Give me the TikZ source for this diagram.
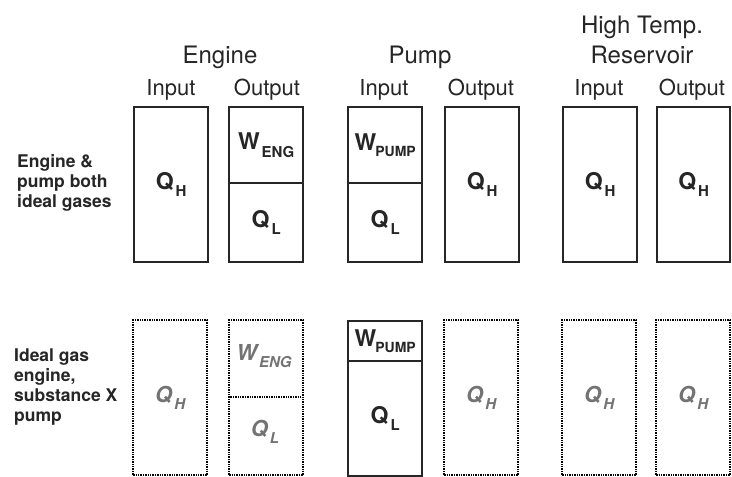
\documentclass[tikz,border=0pt]{standalone}
\usepackage{fontspec}
\setmainfont{TeX Gyre Heros}
\newcommand\lowsub[1]{\kern2pt\raisebox{-0.32em}{\fontsize{15}{15}\selectfont #1}}
\newcommand\pumpsub{\kern-1pt\raisebox{-0.25em}{\fontsize{14}{14}\selectfont PUMP}}
\begin{document}
\begin{tikzpicture}[x=1pt,y=-1pt,
  solidbox/.style={draw=black!85, line width=2.4pt, minimum width=74pt, anchor=north west, inner sep=0pt,
    font=\bfseries\fontsize{23}{23}\selectfont, text=black!85},
  ghostbox/.style={draw=black, line width=2.4pt, dash pattern=on 1.4pt off 1pt, minimum width=74pt,
    anchor=north west, inner sep=0pt, font=\bfseries\itshape\fontsize{22}{22}\selectfont, text=black!55},
  ghostlab/.style={font=\bfseries\itshape\fontsize{22}{22}\selectfont, text=black!55, inner sep=0pt},
  ghostline/.style={draw=black, line width=2.4pt, dash pattern=on 1.4pt off 1pt},
  head/.style={anchor=base, font=\fontsize{24}{24}\selectfont, text=black!85},
  colhead/.style={anchor=base, font=\fontsize{22}{22}\selectfont, text=black!85},
  sidelab/.style={anchor=west, align=left, font=\bfseries\fontsize{17.5}{20}\selectfont, text=black!85, inner sep=0pt}
]
\useasboundingbox (0,0) rectangle (732,477);
\fill[white] (0,0) rectangle (732,477);

% headers
\node[head] (hEng) at (220,63) {Engine};
\node[head] (hPump) at (420,63) {Pump};
\node[head] (hHigh) at (642,33) {High Temp.};
\node[head] (hRes) at (642,63) {Reservoir};
\node[colhead] (c1) at (171,95) {Input};
\node[colhead] (c2) at (267,95) {Output};
\node[colhead] (c3) at (384,95) {Input};
\node[colhead] (c4) at (481,95) {Output};
\node[colhead] (c5) at (599,95) {Input};
\node[colhead] (c6) at (692,95) {Output};

% side labels
\node[sidelab] (s1) at (17,183) {Engine \&\\pump both\\ideal gases};
\node[sidelab] (s2) at (14,387) {Ideal gas\\engine,\\substance X\\pump};

% top row
\node[solidbox, minimum height=155pt] (ei) at (133,106) {Q\lowsub{H}};
\node[solidbox, minimum height=76pt] (eoW) at (228,106) {W\lowsub{ENG}};
\node[solidbox, minimum height=79pt] (eoQ) at (228,182) {Q\lowsub{L}};
\node[solidbox, minimum height=76pt] (piW) at (347,106) {W\pumpsub};
\node[solidbox, minimum height=79pt] (piQ) at (347,182) {Q\lowsub{L}};
\node[solidbox, minimum height=155pt] (po) at (444,106) {Q\lowsub{H}};
\node[solidbox, minimum height=155pt] (ri) at (562,106) {Q\lowsub{H}};
\node[solidbox, minimum height=155pt, minimum width=73pt] (ro) at (656,106) {Q\lowsub{H}};

% bottom row
\node[ghostbox, minimum height=155pt] (ei2) at (132,319) {Q\lowsub{H}};
\node[ghostbox, minimum height=155pt] (eo2) at (228,319) {};
\coordinate (eo2L) at (228,397);
\coordinate (eo2R) at (302,397);
\draw[ghostline] (eo2L) -- (eo2R);
\node[ghostlab] (eoW2) at (264,356) {W\lowsub{ENG}};
\node[ghostlab] (eoQ2) at (265,432) {Q\lowsub{L}};
\node[solidbox, minimum height=40pt] (piW2) at (347,320) {W\pumpsub};
\node[solidbox, minimum height=115pt] (piQ2) at (347,360) {Q\lowsub{L}};
\node[ghostbox, minimum height=155pt] (po2) at (443,319) {Q\lowsub{H}};
\node[ghostbox, minimum height=155pt] (ri2) at (561,319) {Q\lowsub{H}};
\node[ghostbox, minimum height=155pt] (ro2) at (655,319) {Q\lowsub{H}};
\end{tikzpicture}
\end{document}
